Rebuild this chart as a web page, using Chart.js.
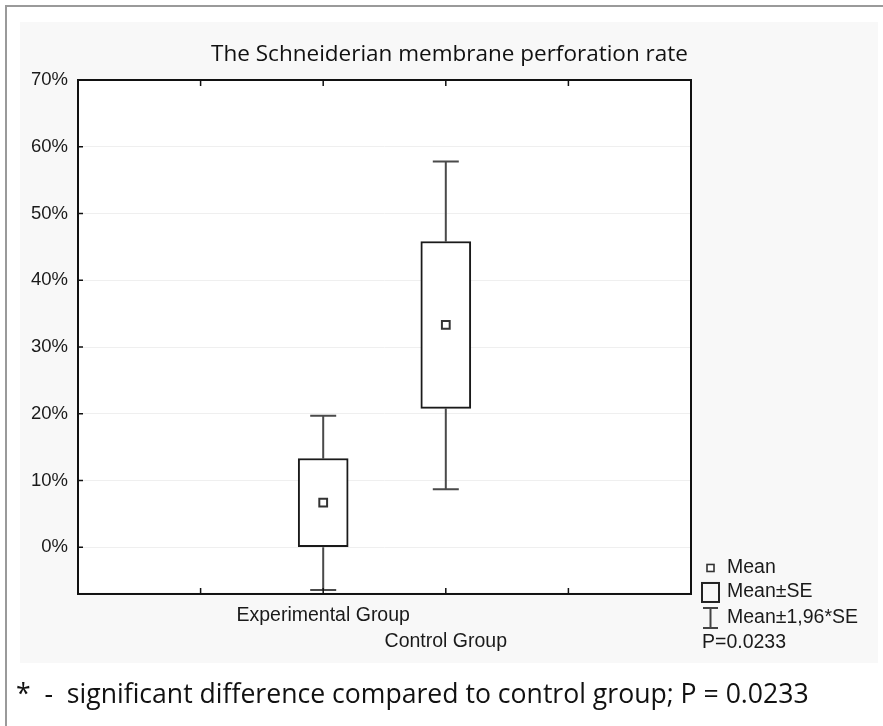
<!DOCTYPE html>
<html><head><meta charset="utf-8">
<script src="https://cdn.jsdelivr.net/npm/chart.js@4.4.1/dist/chart.umd.min.js"></script>
<style>html,body{margin:0;padding:0;background:#fff}canvas{display:block}</style>
</head><body>
<canvas id="c" width="883" height="726"></canvas>
<script>
// ---- data ----
const categories = ['Experimental Group', 'Control Group'];
const means  = [6.67, 33.3];
const seLow  = [0, 20.8];
const seHigh = [13.3, 45.8];
const ciLow  = [-6.4, 8.7];
const ciHigh = [19.7, 57.8];
const yTickValues = [0, 10, 20, 30, 40, 50, 60, 70];
const yMin = -7, yMax = 70;
const legendLabels = ['Mean', 'Mean\u00B1SE', 'Mean\u00B11,96*SE', 'P=0.0233'];
const titleText = 'The Schneiderian membrane perforation rate';
const noteText = '*  -  significant difference compared to control group; P = 0.0233';

// x axis: two empty slots each side of the groups
const xLabels = ['', ''].concat(categories, ['', '']);
const pad = arr => [null, null].concat(arr, [null, null]);

const AX_FONT = "'Liberation Sans', Arial, sans-serif";
const TXT_FONT = "'Open Sans', sans-serif";

const decor = {
  id: 'decor',
  beforeDraw(chart) {
    const ctx = chart.ctx, a = chart.chartArea;
    ctx.save();
    ctx.fillStyle = '#ffffff';
    ctx.fillRect(0, 0, chart.width, chart.height);
    ctx.fillStyle = '#f8f8f8';
    ctx.fillRect(20, 22, 858, 641);
    ctx.strokeStyle = '#9a9a9a';
    ctx.lineWidth = 2;
    ctx.beginPath();
    ctx.moveTo(6, chart.height); ctx.lineTo(6, 6); ctx.lineTo(chart.width, 6);
    ctx.stroke();
    ctx.fillStyle = '#ffffff';
    ctx.fillRect(a.left, a.top, a.right - a.left, a.bottom - a.top);
    ctx.restore();
  },
  beforeDatasetsDraw(chart) {
    const ctx = chart.ctx, xs = chart.scales.x, ys = chart.scales.y;
    ctx.save();
    ctx.strokeStyle = '#4a4a4a';
    ctx.lineWidth = 2;
    categories.forEach((c, i) => {
      const x = xs.getPixelForValue(i + 2);
      const pairs = [[seHigh[i], ciHigh[i]], [seLow[i], ciLow[i]]];
      pairs.forEach(([from, to]) => {
        const y1 = ys.getPixelForValue(from), y2 = ys.getPixelForValue(to);
        ctx.beginPath();
        ctx.moveTo(x, y1); ctx.lineTo(x, y2);
        ctx.moveTo(x - 13, y2); ctx.lineTo(x + 13, y2);
        ctx.stroke();
      });
    });
    ctx.restore();
  },
  afterDraw(chart) {
    const ctx = chart.ctx, a = chart.chartArea, xs = chart.scales.x, ys = chart.scales.y;
    ctx.save();
    // tick marks inside
    ctx.strokeStyle = '#111';
    ctx.lineWidth = 1.5;
    ctx.beginPath();
    yTickValues.forEach(v => {
      const y = ys.getPixelForValue(v);
      ctx.moveTo(a.left, y); ctx.lineTo(a.left + 5, y);
    });
    for (let i = 1; i < xLabels.length - 1; i++) {
      const x = xs.getPixelForValue(i);
      ctx.moveTo(x, a.top); ctx.lineTo(x, a.top + 6);
      ctx.moveTo(x, a.bottom); ctx.lineTo(x, a.bottom - 6);
    }
    ctx.stroke();
    // frame
    ctx.lineWidth = 2;
    ctx.strokeStyle = '#111';
    ctx.strokeRect(a.left, a.top, a.right - a.left, a.bottom - a.top);
    // legend
    const lx = a.right + 11, tx = a.right + 36;
    ctx.font = "19.5px " + AX_FONT;
    ctx.textBaseline = 'middle';
    ctx.textAlign = 'left';
    const ly = [a.bottom - 26, a.bottom - 2, a.bottom + 24, a.bottom + 49];
    // mean icon
    ctx.strokeStyle = '#333'; ctx.lineWidth = 1.6;
    ctx.fillStyle = '#fff';
    ctx.fillRect(lx + 5, ly[0] - 3.5, 7, 7);
    ctx.strokeRect(lx + 5, ly[0] - 3.5, 7, 7);
    // box icon
    ctx.lineWidth = 2; ctx.strokeStyle = '#222';
    ctx.strokeRect(lx, ly[1] - 9, 17, 19);
    // whisker icon
    ctx.strokeStyle = '#444';
    ctx.beginPath();
    ctx.moveTo(lx + 8.5, ly[2] - 10); ctx.lineTo(lx + 8.5, ly[2] + 10);
    ctx.moveTo(lx + 1, ly[2] - 10); ctx.lineTo(lx + 16, ly[2] - 10);
    ctx.moveTo(lx + 1, ly[2] + 10); ctx.lineTo(lx + 16, ly[2] + 10);
    ctx.stroke();
    ctx.fillStyle = '#1a1a1a';
    ctx.fillText(legendLabels[0], tx, ly[0]);
    ctx.fillText(legendLabels[1], tx, ly[1]);
    ctx.fillText(legendLabels[2], tx, ly[2]);
    ctx.fillText(legendLabels[3], lx, ly[3]);
    ctx.restore();
  }
};

new Chart(document.getElementById('c'), {
  type: 'bar',
  data: {
    labels: xLabels,
    datasets: [
      {
        label: 'Mean\u00B1SE',
        data: pad(seLow.map((lo, i) => [lo, seHigh[i]])),
        backgroundColor: '#ffffff',
        borderColor: '#1a1a1a',
        borderWidth: 2,
        borderSkipped: false,
        barThickness: 50,
        order: 2
      },
      {
        type: 'line',
        label: 'Mean',
        data: pad(means),
        showLine: false,
        pointStyle: 'rect',
        pointRadius: 5.5,
        pointBorderWidth: 2,
        pointBackgroundColor: '#ffffff',
        pointBorderColor: '#333333',
        order: 1
      }
    ]
  },
  options: {
    responsive: false,
    devicePixelRatio: 1,
    animation: false,
    events: [],
    layout: { padding: { left: 16, right: 0, top: 0, bottom: 0 } },
    plugins: {
      legend: { display: false },
      tooltip: { enabled: false },
      title: {
        display: true,
        text: titleText,
        color: '#111',
        font: { family: TXT_FONT, size: 22.5, weight: 'normal', lineHeight: 1.2 },
        padding: { top: 41.5, bottom: 11.5 }
      },
      subtitle: {
        display: true,
        position: 'bottom',
        align: 'start',
        text: noteText,
        color: '#111',
        font: { family: TXT_FONT, size: 26.6, weight: 'normal', lineHeight: 1.2 },
        padding: { top: 10, bottom: 15 }
      }
    },
    scales: {
      x: {
        type: 'category',
        offset: false,
        grid: { display: false, drawTicks: false },
        border: { display: false },
        ticks: {
          autoSkip: false,
          maxRotation: 0,
          padding: 9,
          color: '#1a1a1a',
          font: { family: AX_FONT, size: 19.5, lineHeight: 1.333 },
          callback(value) {
            const lab = this.getLabelForValue(value);
            const k = categories.indexOf(lab);
            return k % 2 === 1 ? ['', lab] : lab;
          }
        },
        afterFit(s) { s.height = 75.1; }
      },
      y: {
        type: 'linear',
        min: yMin,
        max: yMax,
        grid: { color: '#efefef', lineWidth: 1, drawTicks: false },
        border: { display: false },
        afterBuildTicks(s) { s.ticks = yTickValues.map(v => ({ value: v })); },
        ticks: {
          padding: 10,
          color: '#1a1a1a',
          font: { family: AX_FONT, size: 18.5 },
          callback: v => v + '%'
        },
        afterFit(s) { s.width = 62; }
      },
      yR: {
        type: 'linear',
        position: 'right',
        display: true,
        grid: { display: false, drawTicks: false },
        border: { display: false },
        ticks: { display: false },
        afterFit(s) { s.width = 192; }
      }
    }
  },
  plugins: [decor]
});
</script>
</body></html>
